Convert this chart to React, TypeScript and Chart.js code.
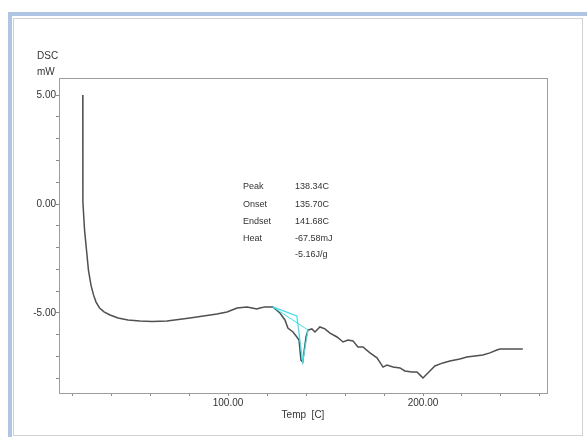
import React, { useEffect, useRef } from "react";
import { Chart, registerables } from "chart.js";

Chart.register(...registerables);

// DSC curve: temperature [C] vs heat flow [mW]
const temperature = [
  25.5, 25.5, 25.6, 26.4, 27.5, 28.4, 29.7, 31.0, 32.3, 34.1, 36.4, 39.5, 43.6, 48.7, 54.8, 61.0, 68.7,
  80.5, 94.3, 99.5, 104.6, 109.7, 112.3, 114.8, 116.4, 118.9, 123.0, 126.6, 129.2, 130.7, 133.3, 135.3,
  136.4, 137.4, 138.3, 138.9, 140.0, 141.0, 143.0, 144.6, 147.1, 149.7, 152.3, 155.9, 159.0, 161.5,
  164.1, 166.6, 169.2, 172.8, 176.4, 179.5, 181.5, 184.6, 188.2, 190.7, 194.3, 196.9, 198.4,
  200.0, 202.5, 206.1, 210.2, 213.8, 218.9, 222.5, 230.7, 234.3, 237.9, 239.5, 244.6, 251.2,
];
const heatFlow = [
  5.0, 2.48, 0.1, -1.19, -2.2, -3.03, -3.72, -4.17, -4.5, -4.77, -4.95, -5.09, -5.23, -5.32, -5.37, -5.39, -5.37,
  -5.23, -5.05, -4.95, -4.77, -4.72, -4.77, -4.82, -4.77, -4.72, -4.72, -5.0, -5.32, -5.69, -5.87, -6.1,
  -6.24, -7.16, -7.25, -6.83, -6.1, -5.78, -5.73, -5.87, -5.64, -5.73, -5.92, -6.1, -6.33, -6.24,
  -6.28, -6.56, -6.56, -6.83, -7.06, -7.48, -7.39, -7.48, -7.52, -7.66, -7.71, -7.71, -7.84,
  -7.98, -7.75, -7.43, -7.29, -7.2, -7.11, -7.02, -6.93, -6.83, -6.7, -6.65, -6.65, -6.65,
];

// Peak analysis construction lines (cyan)
const baselineTemp = [123.0, 141.0];
const baselineFlow = [-4.72, -5.78];
const tangentTemp = [123.0, 135.3, 138.3, 141.0];
const tangentFlow = [-4.72, -5.14, -7.25, -5.78];

// Axis ticks
const xTickValues = [20, 40, 60, 80, 100, 120, 140, 160, 180, 200, 220, 240, 260];
const xLabelValues = [100, 200];
const yTickValues = [-8, -7, -6, -5, -4, -3, -2, -1, 0, 1, 2, 3, 4, 5];
const yLabelValues = [-5, 0, 5];

// Annotation text
const resultNames = ["Peak", "Onset", "Endset", "Heat", ""];
const resultValues = ["138.34C", "135.70C", "141.68C", "-67.58mJ", "-5.16J/g"];

const FONT = '"Liberation Sans", Arial, sans-serif';

const framePlugin = {
  id: "dscFrame",
  afterDraw(chart: any) {
    const { ctx, chartArea } = chart;
    const { left, top, right, bottom } = chartArea;
    const x = chart.scales.x;
    const y = chart.scales.y;
    ctx.save();
    ctx.strokeStyle = "#9c9c9c";
    ctx.lineWidth = 1;
    ctx.strokeRect(Math.round(left) + 0.5, Math.round(top) + 0.5, Math.round(right - left), Math.round(bottom - top));

    ctx.fillStyle = "#333";
    ctx.font = `10px ${FONT}`;
    ctx.textAlign = "left";
    ctx.textBaseline = "middle";
    ctx.fillText("DSC", left - 22, top - 22);
    ctx.fillText("mW", left - 22, top - 6);

    ctx.font = `9px ${FONT}`;
    const nameX = x.getPixelForValue(107.7);
    const valX = x.getPixelForValue(134.3);
    const y0 = y.getPixelForValue(0.78);
    const step = 17.3;
    resultNames.forEach((n, i) => {
      const yy = y0 + i * step - (i === 4 ? 2 : 0);
      if (n) ctx.fillText(n, nameX, yy);
      ctx.fillText(resultValues[i], valX, yy);
    });
    ctx.restore();
  },
};

export default function App() {
  const ref = useRef<HTMLCanvasElement | null>(null);

  useEffect(() => {
    if (!ref.current) return;
    const toPts = (xs: number[], ys: number[]) => xs.map((v, i) => ({ x: v, y: ys[i] }));
    const chart = new Chart(ref.current, {
      type: "line",
      data: {
        datasets: [
          {
            data: toPts(baselineTemp, baselineFlow),
            borderColor: "#3fe0e6",
            borderWidth: 1,
            pointRadius: 0,
            tension: 0,
          },
          {
            data: toPts(tangentTemp, tangentFlow),
            borderColor: "#3fe0e6",
            borderWidth: 1.2,
            pointRadius: 0,
            tension: 0,
          },
          {
            data: toPts(temperature, heatFlow),
            borderColor: "#505050",
            borderWidth: 1.5,
            pointRadius: 0,
            tension: 0,
          },
        ],
      },
      options: {
        animation: false,
        responsive: false,
        events: [],
        layout: { padding: { top: 78, right: 40, left: 0, bottom: 0 } },
        plugins: { legend: { display: false }, tooltip: { enabled: false } },
        scales: {
          x: {
            type: "linear",
            min: 13.3,
            max: 263.6,
            border: { display: false },
            grid: { drawOnChartArea: false, drawTicks: true, tickLength: 3, color: "#8a8a8a" },
            afterBuildTicks: (s: any) => {
              s.ticks = xTickValues.map((v) => ({ value: v }));
            },
            afterFit: (s: any) => {
              s.height = 44;
            },
            ticks: {
              autoSkip: false,
              maxRotation: 0,
              padding: 1,
              color: "#333",
              font: { family: FONT, size: 10 },
              callback: (v: any) => (xLabelValues.includes(Number(v)) ? Number(v).toFixed(2) : ""),
            },
            title: {
              display: true,
              text: "Temp  [C]",
              color: "#333",
              font: { family: FONT, size: 10 },
              padding: { top: 0, bottom: 16 },
            },
          },
          y: {
            type: "linear",
            min: -8.67,
            max: 5.78,
            border: { display: false },
            grid: { drawOnChartArea: false, drawTicks: true, tickLength: 3, color: "#8a8a8a" },
            afterBuildTicks: (s: any) => {
              s.ticks = yTickValues.map((v) => ({ value: v }));
            },
            afterFit: (s: any) => {
              s.width = 59;
            },
            ticks: {
              autoSkip: false,
              padding: 0,
              color: "#333",
              font: { family: FONT, size: 10 },
              callback: (v: any) => (yLabelValues.includes(Number(v)) ? Number(v).toFixed(2) : ""),
            },
          },
        },
      },
      plugins: [framePlugin],
    });
    return () => chart.destroy();
  }, []);

  return (
    <div style={{ position: "fixed", left: 0, top: 0, width: 587, height: 437, overflow: "hidden", background: "#fff" }}>
      <div
        style={{
          position: "absolute",
          left: 8,
          top: 12,
          width: 600,
          height: 440,
          borderLeft: "4px solid #aec5e4",
          borderTop: "4px solid #aec5e4",
          boxSizing: "border-box",
        }}
      />
      <div
        style={{
          position: "absolute",
          left: 13,
          top: 18,
          width: 570,
          height: 418,
          border: "1px solid #d2d2d2",
          boxSizing: "border-box",
        }}
      />
      <canvas ref={ref} width={587} height={437} style={{ position: "absolute", left: 0, top: 0 }} />
    </div>
  );
}
